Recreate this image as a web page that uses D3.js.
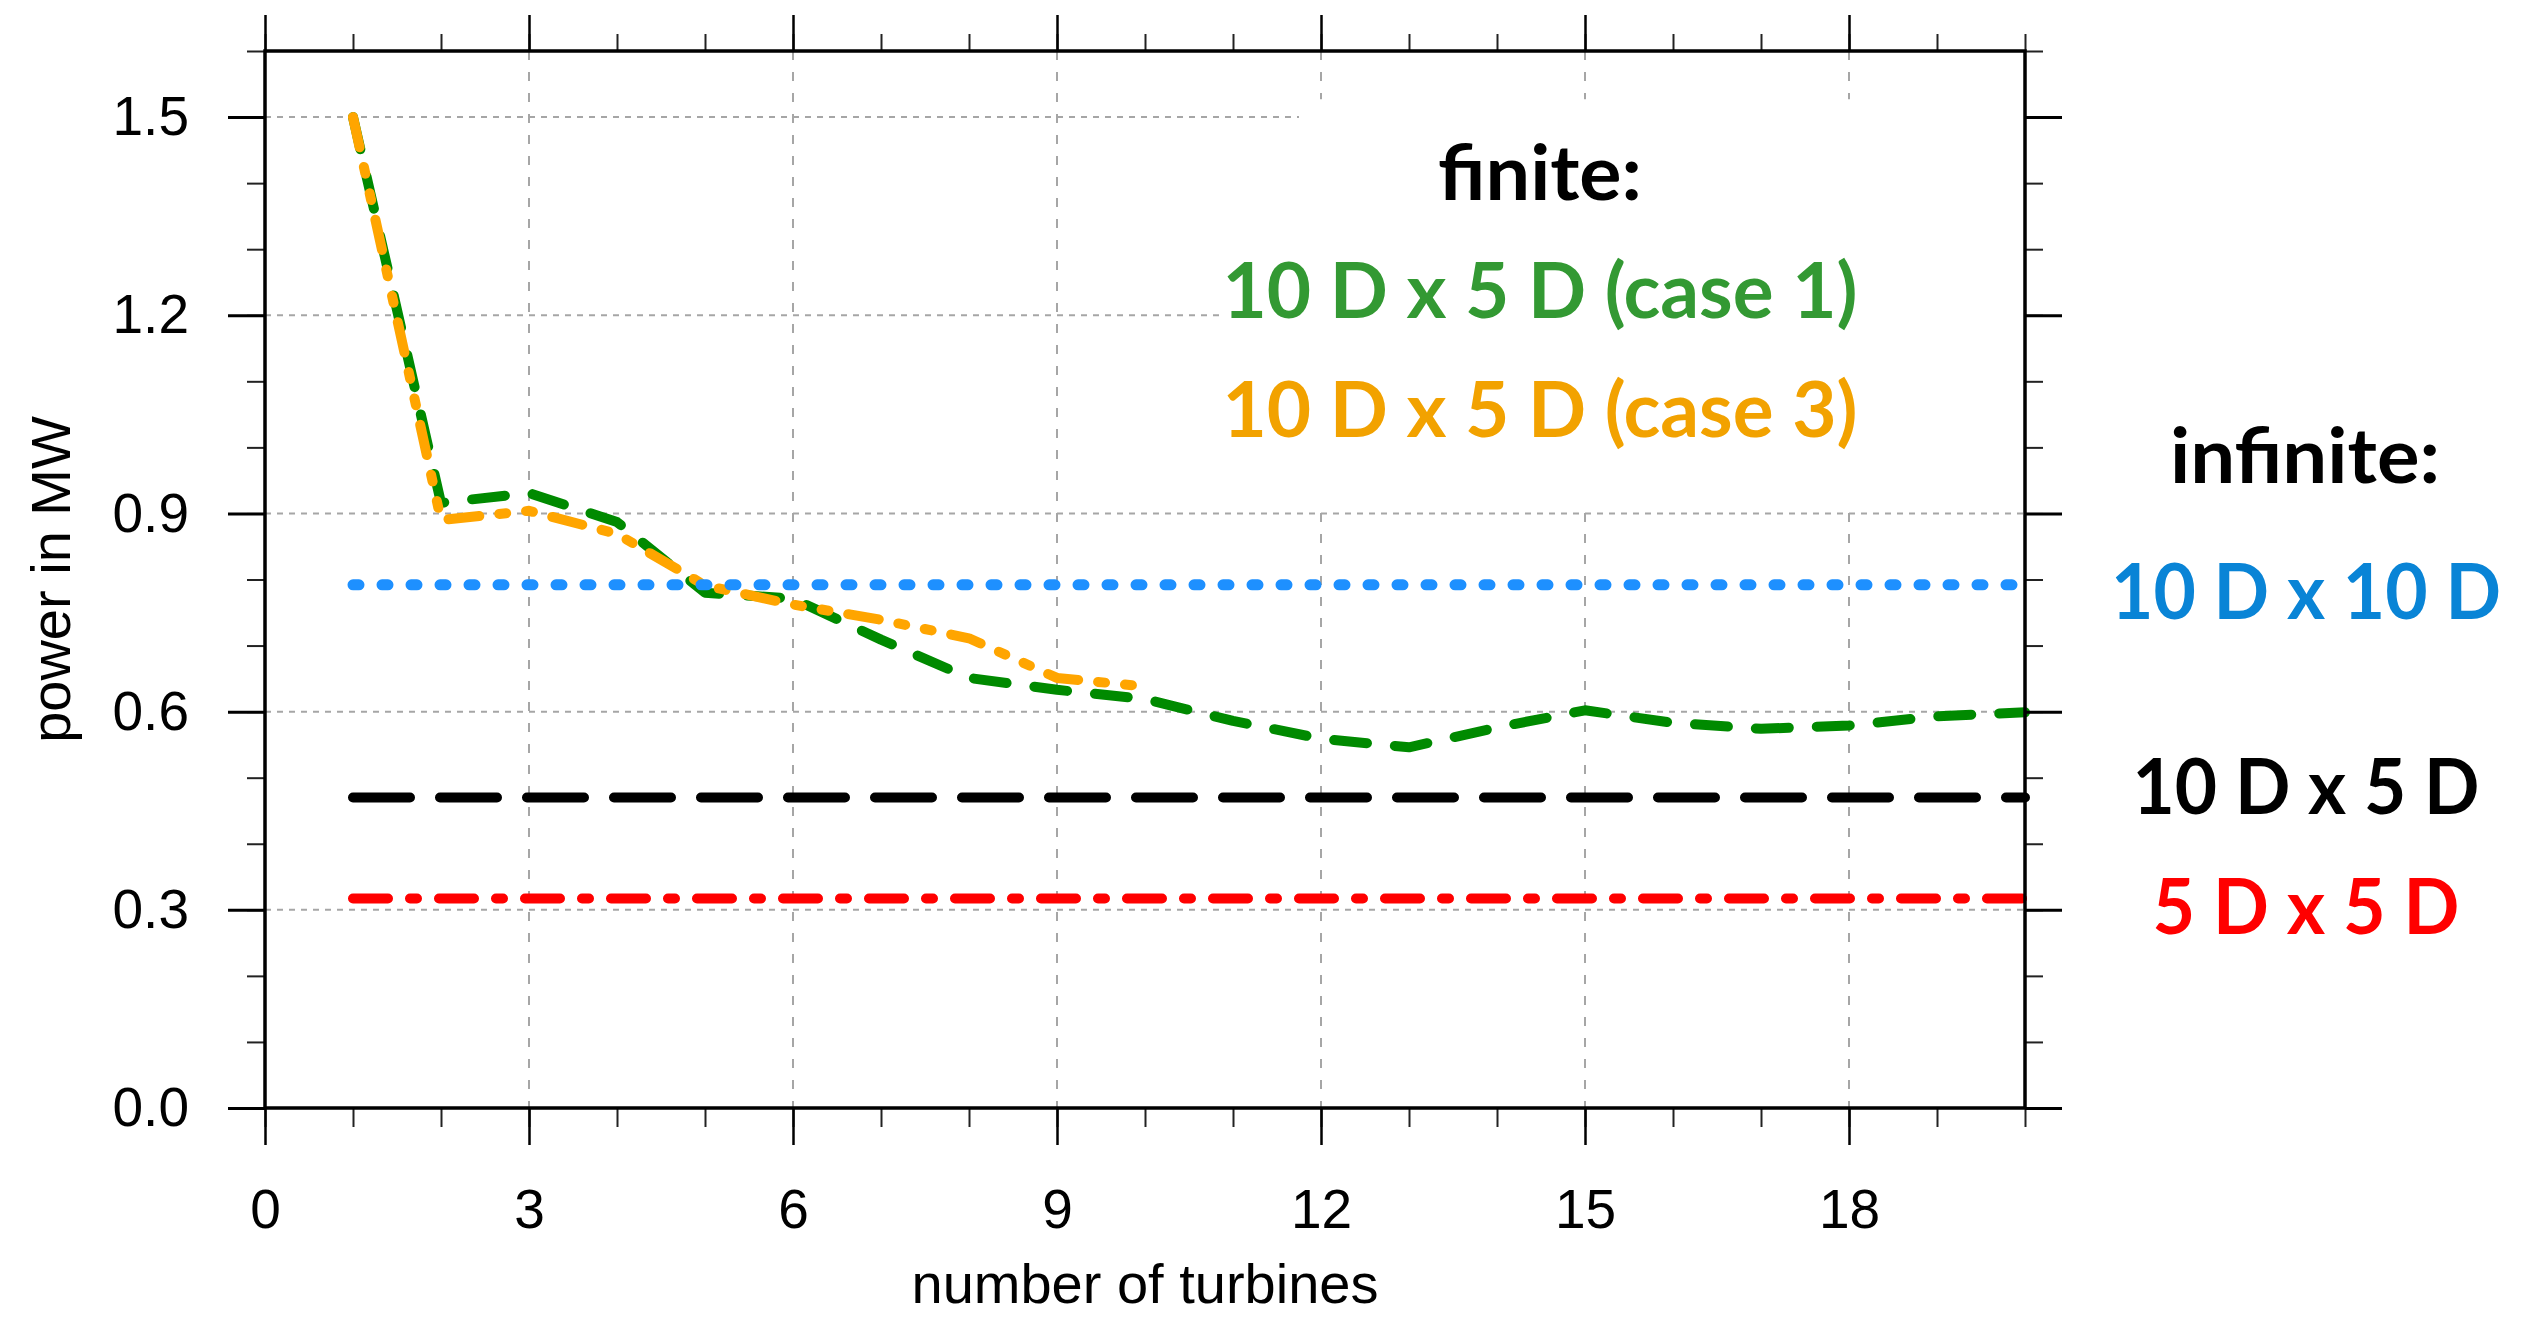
<!DOCTYPE html>
<html>
<head>
<meta charset="utf-8">
<script src="https://cdn.jsdelivr.net/npm/d3@7"></script>
<style>
  html, body { margin: 0; padding: 0; background: #fff; }
  svg { display: block; }
</style>
</head>
<body>
<div id="chart"></div>
<script>
// Finite wind farm: mean power per turbine vs number of turbines
var turbines = [1, 2, 3, 4, 5, 6, 7, 8, 9, 10, 11, 12, 13, 14, 15, 16, 17, 18, 19, 20];
var case1Power = [1.50, 0.916, 0.931, 0.887, 0.780, 0.771, 0.709, 0.651, 0.633, 0.619,
                  0.586, 0.559, 0.546, 0.576, 0.602, 0.583, 0.574, 0.579, 0.593, 0.599];
var case3Turbines = [1, 2, 3, 4, 5, 6, 7, 8, 9, 10];
var case3Power = [1.50, 0.890, 0.904, 0.869, 0.791, 0.762, 0.739, 0.711, 0.651, 0.638];

// Infinite wind farm reference values (flat lines)
var infiniteLabels = ["10 D x 10 D", "10 D x 5 D", "5 D x 5 D"];
var infinitePower = [0.792, 0.470, 0.317];
var infiniteRange = [1, 20];

var finiteLabels = ["10 D x 5 D (case 1)", "10 D x 5 D (case 3)"];

// Tick values and their labels
var xTicks = [0, 3, 6, 9, 12, 15, 18];
var xTickLabels = ["0", "3", "6", "9", "12", "15", "18"];
var xMinorTicks = [0, 1, 2, 3, 4, 5, 6, 7, 8, 9, 10, 11, 12, 13, 14, 15, 16, 17, 18, 19, 20];
var yTicks = [0.0, 0.3, 0.6, 0.9, 1.2, 1.5];
var yTickLabels = ["0.0", "0.3", "0.6", "0.9", "1.2", "1.5"];
var yMinorTicks = [0.0, 0.1, 0.2, 0.3, 0.4, 0.5, 0.6, 0.7, 0.8, 0.9, 1.0, 1.1, 1.2, 1.3, 1.4, 1.5, 1.6];

(function () {
    var width = 2526, height = 1318;
    var margin = { top: 51, right: 501, bottom: 210, left: 265 };
    var innerWidth = width - margin.left - margin.right;
    var innerHeight = height - margin.top - margin.bottom;

    var x = d3.scaleLinear().domain([0, 20]).range([0, innerWidth]);
    var y = d3.scaleLinear().domain([0, 1.6]).range([innerHeight, 0]);

    var svgRoot = d3.select("#chart").append("svg")
        .attr("width", width)
        .attr("height", height);

    var svg = svgRoot.append("g")
        .attr("transform", `translate(${margin.left}, ${margin.top})`);

    // Dashed grid at the major ticks
    svg.append("g").selectAll("line")
        .data(xTicks.slice(1))
        .enter().append("line")
        .attr("x1", d => x(d)).attr("x2", d => x(d))
        .attr("y1", 0).attr("y2", innerHeight)
        .attr("stroke", "#a6a6a6").attr("stroke-width", 2)
        .attr("stroke-dasharray", "9 12");

    svg.append("g").selectAll("line")
        .data(yTicks.slice(1))
        .enter().append("line")
        .attr("x1", 0).attr("x2", innerWidth)
        .attr("y1", d => y(d)).attr("y2", d => y(d))
        .attr("stroke", "#a6a6a6").attr("stroke-width", 2)
        .attr("stroke-dasharray", "6 6");

    // White text boxes behind the "finite" annotation
    svg.append("rect")
        .attr("x", x(11.75)).attr("y", y(1.527))
        .attr("width", x(20) - x(11.75)).attr("height", y(1.33) - y(1.527))
        .attr("fill", "#fff");
    svg.append("rect")
        .attr("x", x(10.875)).attr("y", y(1.33))
        .attr("width", x(20) - x(10.875)).attr("height", y(0.915) - y(1.33))
        .attr("fill", "#fff");

    // Line generator
    var line = d3.line()
        .x(d => x(d[0]))
        .y(d => y(d[1]));

    // Finite farm curves
    svg.append("path")
        .datum(turbines.map((t, i) => [t, case1Power[i]]))
        .attr("d", line)
        .attr("fill", "none")
        .attr("stroke", "#008a00")
        .attr("stroke-width", 10)
        .attr("stroke-linecap", "round")
        .attr("stroke-linejoin", "round")
        .attr("stroke-dasharray", "33 28");

    svg.append("path")
        .datum(case3Turbines.map((t, i) => [t, case3Power[i]]))
        .attr("d", line)
        .attr("fill", "none")
        .attr("stroke", "#ffa500")
        .attr("stroke-width", 10)
        .attr("stroke-linecap", "round")
        .attr("stroke-linejoin", "round")
        .attr("stroke-dasharray", "31 20 7 20 7 20");

    // Infinite farm reference lines
    var refColors = ["#1e90ff", "#000000", "#ff0000"];
    var refDash = ["6 23", "57 30", "35 22 7 22"];
    var refWidth = [11, 10, 10];
    infinitePower.forEach(function (p, i) {
        svg.append("path")
            .datum(infiniteRange.map(t => [t, p]))
            .attr("d", line)
            .attr("fill", "none")
            .attr("stroke", refColors[i])
            .attr("stroke-width", refWidth[i])
            .attr("stroke-linecap", "round")
            .attr("stroke-dasharray", refDash[i]);
    });

    // Axes with outward ticks on all four sides
    function styleAxis(g, w, color) {
        g.select(".domain").remove();
        g.selectAll(".tick line").attr("stroke", color).attr("stroke-width", w);
        g.selectAll(".tick text")
            .attr("fill", "#000")
            .style("font-family", "'Liberation Sans', Arial, sans-serif")
            .style("font-size", "55px");
    }

    var noLabel = () => "";

    svg.append("g").attr("transform", `translate(0, ${innerHeight})`)
        .call(d3.axisBottom(x).tickValues(xMinorTicks).tickSize(19).tickFormat(noLabel))
        .call(g => styleAxis(g, 2, "#222"));
    svg.append("g").attr("transform", `translate(0, ${innerHeight})`)
        .call(d3.axisBottom(x).tickValues(xTicks).tickSize(37).tickPadding(44)
            .tickFormat((d, i) => xTickLabels[i]))
        .call(g => styleAxis(g, 2.5, "#000"));

    svg.append("g")
        .call(d3.axisTop(x).tickValues(xMinorTicks).tickSize(17).tickFormat(noLabel))
        .call(g => styleAxis(g, 2, "#222"));
    svg.append("g")
        .call(d3.axisTop(x).tickValues(xTicks).tickSize(36).tickFormat(noLabel))
        .call(g => styleAxis(g, 2.5, "#000"));

    svg.append("g")
        .call(d3.axisLeft(y).tickValues(yMinorTicks).tickSize(18).tickFormat(noLabel))
        .call(g => styleAxis(g, 2, "#222"));
    svg.append("g")
        .call(d3.axisLeft(y).tickValues(yTicks).tickSize(37).tickPadding(39)
            .tickFormat((d, i) => yTickLabels[i]))
        .call(g => styleAxis(g, 3, "#000"));

    svg.append("g").attr("transform", `translate(${innerWidth}, 0)`)
        .call(d3.axisRight(y).tickValues(yMinorTicks).tickSize(18).tickFormat(noLabel))
        .call(g => styleAxis(g, 2, "#222"));
    svg.append("g").attr("transform", `translate(${innerWidth}, 0)`)
        .call(d3.axisRight(y).tickValues(yTicks).tickSize(37).tickFormat(noLabel))
        .call(g => styleAxis(g, 3, "#000"));

    // Plot frame
    svg.append("rect")
        .attr("x", 0).attr("y", 0)
        .attr("width", innerWidth).attr("height", innerHeight)
        .attr("fill", "none")
        .attr("stroke", "#000")
        .attr("stroke-width", 3.5);

    // Axis titles
    svg.append("text")
        .attr("x", innerWidth / 2)
        .attr("y", innerHeight + 195)
        .attr("text-anchor", "middle")
        .style("font-family", "'Liberation Sans', Arial, sans-serif")
        .style("font-size", "56px")
        .text("number of turbines");

    svg.append("text")
        .attr("transform", "rotate(-90)")
        .attr("x", -innerHeight / 2)
        .attr("y", -margin.left + 70)
        .attr("text-anchor", "middle")
        .style("font-family", "'Liberation Sans', Arial, sans-serif")
        .style("font-size", "56px")
        .text("power in MW");

    // Annotation labels (drawn on the root svg)
    var labelFont = "Lato, 'Open Sans', sans-serif";
    function addLabel(txt, cx, baseline, len, color) {
        svgRoot.append("text")
            .attr("x", cx)
            .attr("y", baseline)
            .attr("text-anchor", "middle")
            .attr("textLength", len)
            .attr("lengthAdjust", "spacingAndGlyphs")
            .attr("fill", color)
            .style("font-family", labelFont)
            .style("font-weight", "bold")
            .style("font-size", "77px")
            .text(txt);
    }

    addLabel("finite:", 1540, 200, 204, "#000");
    addLabel(finiteLabels[0], 1540, 318, 635, "#339933");
    addLabel(finiteLabels[1], 1540, 437, 635, "#f2a200");

    addLabel("infinite:", 2305, 483, 270, "#000");
    var infiniteColors = ["#0984d6", "#000000", "#ff0000"];
    var infiniteBaselines = [619, 814, 934];
    var infiniteLengths = [390, 347, 307];
    infiniteLabels.forEach(function (lbl, i) {
        addLabel(lbl, 2306, infiniteBaselines[i], infiniteLengths[i], infiniteColors[i]);
    });
})();
</script>
</body>
</html>
